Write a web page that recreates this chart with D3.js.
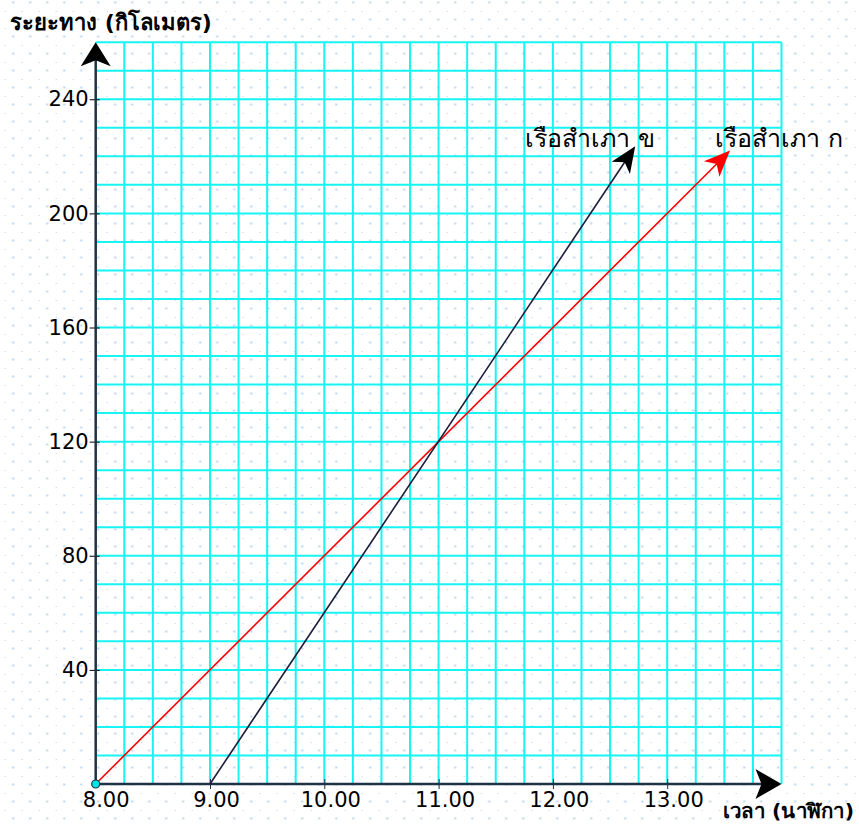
<!DOCTYPE html>
<html>
<head>
<meta charset="utf-8">
<script src="https://cdn.jsdelivr.net/npm/d3@7"></script>
<style>
  body { margin: 0; background: #fff; }
  svg text { font-family: "DejaVu Sans", "Noto Sans", sans-serif; fill: #000; }
</style>
</head>
<body>
<svg id="chart" width="859" height="825"></svg>
<script>
// data
var hourTicks = [8, 9, 10, 11, 12, 13];
var kmTicks = [40, 80, 120, 160, 200, 240];
var boatNames = ["เรือสำเภา ก", "เรือสำเภา ข"];
var boatColors = ["#ff0000", "#1c1c3c"];
var boatATime = [8, 13.55];
var boatAKm = [0, 222];
var boatBTime = [9, 12.72];
var boatBKm = [0, 223.5];

var svg = d3.select('#chart');
var x = d3.scaleLinear().domain([8, 14]).range([95.7, 781.5]);
var y = d3.scaleLinear().domain([0, 260]).range([784, 42.2]);

// dotted paper background
var defs = svg.append('defs');
var pat = defs.append('pattern')
  .attr('id', 'dots')
  .attr('patternUnits', 'userSpaceOnUse')
  .attr('x', 4.7).attr('y', 11)
  .attr('width', 17).attr('height', 17);
pat.append('rect').attr('x', -1).attr('y', -1).attr('width', 2).attr('height', 2).attr('fill', '#b9d3ee');
pat.append('rect').attr('x', 7.5).attr('y', 7.5).attr('width', 2).attr('height', 2).attr('fill', '#b9d3ee');
svg.append('rect').attr('width', 859).attr('height', 825).attr('fill', 'url(#dots)');

// cyan grid, every 15 minutes and every 10 km
var gridX = d3.range(8.25, 14.001, 0.25);
var gridY = d3.range(10, 260.001, 10);
svg.append('g').selectAll('line').data(gridX).enter().append('line')
  .attr('x1', function(d) { return x(d); }).attr('x2', function(d) { return x(d); })
  .attr('y1', y(0)).attr('y2', y(260))
  .attr('stroke', '#17f4f4').attr('stroke-width', 2);
svg.append('g').selectAll('line').data(gridY).enter().append('line')
  .attr('y1', function(d) { return y(d); }).attr('y2', function(d) { return y(d); })
  .attr('x1', x(8)).attr('x2', x(14))
  .attr('stroke', '#17f4f4').attr('stroke-width', 2);

// arrowhead with a notch, tip at (tx,ty) pointing along angle a
function arrowHead(g, tx, ty, a, len, half, notch, color) {
  var dx = Math.cos(a), dy = Math.sin(a);
  var px = -dy, py = dx;
  var pts = [
    [tx, ty],
    [tx - len * dx + half * px, ty - len * dy + half * py],
    [tx - notch * dx, ty - notch * dy],
    [tx - len * dx - half * px, ty - len * dy - half * py]
  ];
  g.append('path').attr('d', 'M' + pts.join('L') + 'Z').attr('fill', color);
}

// axes
var axisColor = '#1f3245';
var xAxis = svg.append('g').attr('transform', 'translate(0,' + y(0) + ')')
  .call(d3.axisBottom(x).tickValues(hourTicks).tickSize(5)
    .tickFormat(function(d) { return d.toFixed(2); }));
xAxis.select('.domain').remove();
xAxis.selectAll('.tick line').attr('y1', -5).attr('stroke', axisColor)
  .filter(function(d) { return d === 8; }).remove();
xAxis.selectAll('.tick text').attr('font-size', 21).attr('font-family', null)
  .attr('dx', function(d) { return d === 8 ? 10 : 6; });

var yAxis = svg.append('g').attr('transform', 'translate(' + x(8) + ',0)')
  .call(d3.axisLeft(y).tickValues(kmTicks).tickSize(6).tickPadding(1));
yAxis.select('.domain').remove();
yAxis.selectAll('.tick line').attr('x1', 4).attr('stroke', '#000');
yAxis.selectAll('.tick text').attr('font-size', 21).attr('font-family', null);

svg.append('line').attr('x1', x(8)).attr('x2', x(14) - 10).attr('y1', y(0)).attr('y2', y(0))
  .attr('stroke', axisColor).attr('stroke-width', 2.5);
svg.append('line').attr('x1', x(8)).attr('x2', x(8)).attr('y1', y(0)).attr('y2', y(260) + 10)
  .attr('stroke', axisColor).attr('stroke-width', 2.5);
arrowHead(svg, x(14), y(0), 0, 26, 15, 20, '#000');
arrowHead(svg, x(8), y(260), -Math.PI / 2, 24, 15, 18, '#000');

// boat lines
var boats = [[boatATime, boatAKm], [boatBTime, boatBKm]];
boats.forEach(function(b, i) {
  var x1 = x(b[0][0]), y1 = y(b[1][0]), x2 = x(b[0][1]), y2 = y(b[1][1]);
  var a = Math.atan2(y2 - y1, x2 - x1);
  svg.append('line').attr('x1', x1).attr('y1', y1)
    .attr('x2', x2 - 8 * Math.cos(a)).attr('y2', y2 - 8 * Math.sin(a))
    .attr('stroke', boatColors[i]).attr('stroke-width', 1.6);
  arrowHead(svg, x2, y2, a, 26, 11, 19, i === 0 ? '#ff0000' : '#000');
});

// origin point
svg.append('circle').attr('cx', x(8)).attr('cy', y(0)).attr('r', 4)
  .attr('fill', '#00e5e5').attr('stroke', axisColor).attr('stroke-width', 1.2);

// labels
svg.append('text').attr('x', 715).attr('y', 147).attr('font-size', 25).text(boatNames[0]);
svg.append('text').attr('x', 525).attr('y', 147).attr('font-size', 25).text(boatNames[1]);
svg.append('text').attr('x', 10).attr('y', 30).attr('font-size', 22).attr('font-weight', 'bold')
  .text('ระยะทาง (กิโลเมตร)');
svg.append('text').attr('x', 723).attr('y', 818).attr('font-size', 20).attr('font-weight', 'bold')
  .attr('textLength', 131).attr('lengthAdjust', 'spacingAndGlyphs')
  .text('เวลา (นาฬิกา)');
</script>
</body>
</html>
